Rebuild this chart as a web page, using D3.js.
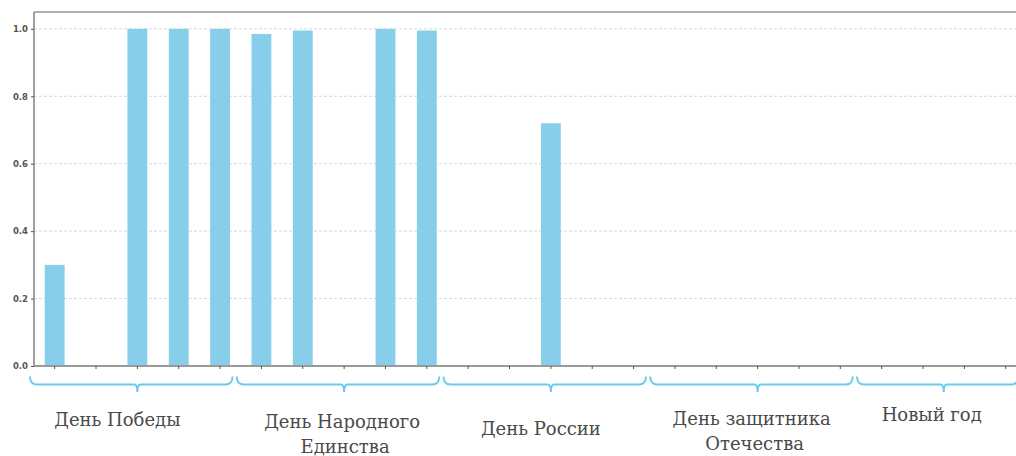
<!DOCTYPE html>
<html>
<head>
<meta charset="utf-8">
<script src="https://cdn.jsdelivr.net/npm/d3@7/dist/d3.min.js"></script>
<style>
  html, body { margin: 0; padding: 0; background: #fff; }
  svg { display: block; }
  .hlabel { font-family: "DejaVu Serif"; font-size: 18px; }
</style>
</head>
<body>
<svg id="chart" width="1016" height="456"></svg>
<script>
// ---- data ----
const holidays = ["День Победы", "День Народного Единства", "День России", "День защитника Отечества", "Новый год"];
const holidayLines = [["День Победы"], ["День Народного", "Единства"], ["День России"], ["День защитника", "Отечества"], ["Новый год"]];
const groupSizes = [5, 5, 5, 5, 4];
const values = [
  0.30, 0.00, 1.00, 1.00, 1.00,
  0.985, 0.995, 0.00, 1.00, 0.995,
  0.00, 0.00, 0.72, 0.00, 0.00,
  0.00, 0.00, 0.00, 0.00, 0.00,
  0.00, 0.00, 0.00, 0.00
];
const yTicks = [0.0, 0.2, 0.4, 0.6, 0.8, 1.0];

// ---- categories built from groups ----
const categories = [];
const groupOf = [];
holidays.forEach((h, gi) => {
  for (let k = 0; k < groupSizes[gi]; k++) { categories.push(h + " " + (k + 1)); groupOf.push(gi); }
});

// ---- layout ----
const mLeft = 34, mTop = 12, mBottom = 366;
const step = 41.35;
const mRight = mLeft + step * categories.length;

const svg = d3.select("#chart");

const x = d3.scaleBand().domain(categories).range([mLeft, mRight]).paddingInner(0.52).paddingOuter(0.26);
const y = d3.scaleLinear().domain([0, 1.05]).range([mBottom, mTop]);
const cx = c => x(c) + x.bandwidth() / 2;

// grid
svg.append("g").selectAll("line").data(yTicks.filter(t => t > 0)).join("line")
  .attr("x1", mLeft).attr("x2", 1016)
  .attr("y1", d => y(d)).attr("y2", d => y(d))
  .attr("stroke", "#d9d9d9").attr("stroke-width", 1).attr("stroke-dasharray", "3,2");

// top frame line
svg.append("line").attr("x1", mLeft).attr("x2", 1016).attr("y1", mTop).attr("y2", mTop)
  .attr("stroke", "#b0b0b0").attr("stroke-width", 2.2);

// bars
svg.append("g").selectAll("rect").data(values.map((v, i) => ({ c: categories[i], v })).filter(d => d.v > 0)).join("rect")
  .attr("x", d => x(d.c)).attr("width", x.bandwidth())
  .attr("y", d => y(d.v)).attr("height", d => y(0) - y(d.v))
  .attr("fill", "#87ceeb");

// y axis
const yAxis = svg.append("g").attr("transform", `translate(${mLeft},0)`)
  .call(d3.axisLeft(y).tickValues(yTicks).tickFormat(d3.format(".1f")).tickSize(3).tickPadding(3));
yAxis.select(".domain").attr("stroke", "#8a8a8a").attr("stroke-width", 1.6).attr("d", `M0,${mTop}V${mBottom}`);
yAxis.selectAll(".tick line").attr("stroke", "#555");
yAxis.selectAll(".tick text").attr("fill", "#555").attr("font-family", "DejaVu Sans").attr("font-size", "8.5px").attr("font-weight", "bold");

// x axis
const xAxis = svg.append("g").attr("transform", `translate(0,${mBottom})`)
  .call(d3.axisBottom(x).tickFormat("").tickSize(3).tickSizeOuter(0));
xAxis.select(".domain").attr("stroke", "#9a9a9a").attr("stroke-width", 1.8).attr("d", `M${mLeft},0H1016`);
xAxis.selectAll(".tick line").attr("stroke", "#555");

// braces + labels
const labelOffsets = [[-20, 426], [-2, 428], [-10, 435], [-6, 425], [-12, 421]];
const braceTop = 376.5, braceY = 384.5, braceTip = 392;
const braceG = svg.append("g").attr("fill", "none").attr("stroke", "#6ccaf0").attr("stroke-width", 2);
holidays.forEach((h, gi) => {
  const cats = categories.filter((c, i) => groupOf[i] === gi);
  const first = cx(cats[0]), last = cx(cats[cats.length - 1]);
  const x0 = first - step * 0.5 - 4, x1 = last + step * 0.3;
  const xc = (first + last) / 2;
  const r = 7;
  const p = d3.path();
  p.moveTo(x0, braceTop);
  p.quadraticCurveTo(x0, braceY, x0 + r, braceY);
  p.lineTo(xc - 3, braceY);
  p.quadraticCurveTo(xc, braceY, xc, braceTip);
  p.moveTo(xc, braceTip);
  p.quadraticCurveTo(xc, braceY, xc + 3, braceY);
  p.lineTo(x1 - r, braceY);
  p.quadraticCurveTo(x1, braceY, x1, braceTop);
  braceG.append("path").attr("d", p.toString());

  const t = svg.append("text")
    .attr("class", "hlabel")
    .attr("x", xc + labelOffsets[gi][0]).attr("y", labelOffsets[gi][1])
    .attr("text-anchor", "middle")
    .attr("fill", "#4a4a4a");
  holidayLines[gi].forEach((line, li) => {
    t.append("tspan").attr("x", xc + labelOffsets[gi][0] + (li ? 3 : 0)).attr("dy", li ? 25 : 0).text(line);
  });
});
</script>
</body>
</html>
